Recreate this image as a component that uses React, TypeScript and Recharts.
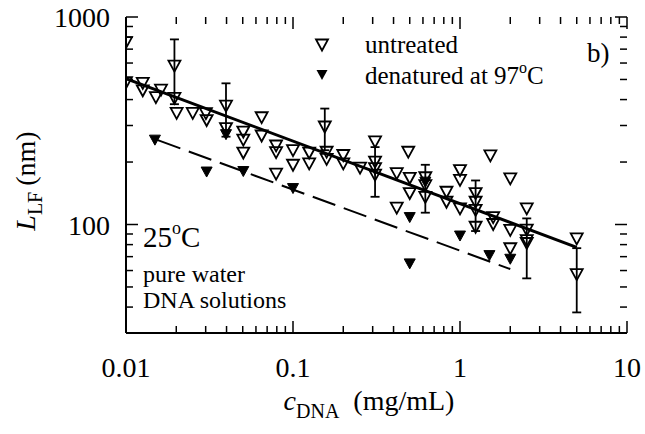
import React from 'react';
import { ScatterChart, Scatter, XAxis, YAxis, ErrorBar } from 'recharts';

const FONT = "'Liberation Serif', 'DejaVu Serif', serif";

// untreated samples without error bars: c_DNA (mg/mL), L_LF (nm)
const untreatedC = [
  0.01, 0.01, 0.0126, 0.0126, 0.0151, 0.0162, 0.0195, 0.0201, 0.0251, 0.0301,
  0.0304, 0.0397, 0.0504, 0.0504, 0.0504, 0.0649, 0.0649, 0.0792, 0.0792, 0.0792,
  0.1, 0.1, 0.125, 0.125, 0.159, 0.159, 0.2, 0.2, 0.252, 0.31,
  0.31, 0.31, 0.418, 0.418, 0.49, 0.5, 0.5, 0.62, 0.62, 0.83,
  0.83, 1.0, 1.0, 1.0, 1.24, 1.24, 1.24, 1.52, 1.58, 1.58,
  2.0, 2.0, 2.0, 2.51, 2.51, 2.51, 5.0,
];
const untreatedL = [
  752, 482, 479, 441, 409, 444, 405, 343, 343, 342,
  317, 290, 279, 255, 221, 327, 267, 239, 222, 175,
  227, 193, 221, 196, 223, 206, 215, 196, 187, 250,
  200, 173, 176, 120, 223, 167, 141, 168, 135, 143,
  128, 182, 163, 119, 141, 117, 97, 214, 108, 100,
  166, 93.6, 76.4, 119, 94, 83.6, 85.3,
];

// untreated samples carrying error bars
const barredC = [0.0195, 0.0397, 0.155, 0.31, 0.62, 1.24, 2.51, 5.0];
const barredL = [580, 372, 295, 186, 154, 128, 81, 57.3];
const barredErr = [200, 107, 67, 50, 40, 35, 26, 19.6];

// denatured at 97 C
const denaturedC = [0.0149, 0.0304, 0.0397, 0.0504, 0.1, 0.5, 0.5, 0.62, 1.0, 1.5, 2.0];
const denaturedL = [255, 179, 271, 180, 149, 108, 64.6, 160, 88, 70.8, 68];

// power-law fits
const fitC = [0.01, 5];
const fitL = [505, 77.6];
const fitDenC = [0.0155, 2];
const fitDenL = [255, 61];

const xTicks = [
  0.01, 0.02, 0.03, 0.04, 0.05, 0.06, 0.07, 0.08, 0.09,
  0.1, 0.2, 0.3, 0.4, 0.5, 0.6, 0.7, 0.8, 0.9,
  1, 2, 3, 4, 5, 6, 7, 8, 9, 10,
];
const xMajor = [0.01, 0.1, 1, 10];
const yTicks = [40, 50, 60, 70, 80, 90, 100, 200, 300, 400, 500, 600, 700, 800, 900, 1000];
const yMajor = [100, 1000];

// plot box size, used to mirror ticks on the top and right frame
const PLOT_W = 501;
const PLOT_H = 316;

const toPts = (c: number[], l: number[]) => c.map((v, i) => ({ c: v, L: l[i] }));
const untreated = toPts(untreatedC, untreatedL);
const barred = barredC.map((v, i) => ({ c: v, L: barredL[i], err: barredErr[i] }));
const denatured = toPts(denaturedC, denaturedL);
const fit = toPts(fitC, fitL);
const fitDen = toPts(fitDenC, fitDenL);

const OpenTri = (props: any) => {
  const { cx, cy } = props;
  if (cx == null || cy == null) return <g />;
  return (
    <polygon
      points={`${cx - 6},${cy - 5.5} ${cx + 6},${cy - 5.5} ${cx},${cy + 5.5}`}
      fill="none"
      stroke="#000"
      strokeWidth={1.8}
    />
  );
};

const FilledTri = (props: any) => {
  const { cx, cy } = props;
  if (cx == null || cy == null) return <g />;
  return (
    <polygon
      points={`${cx - 5.5},${cy - 5} ${cx + 5.5},${cy - 5} ${cx},${cy + 5}`}
      fill="#000"
      stroke="#000"
      strokeWidth={1}
    />
  );
};

const NoDot = () => <g />;

// ticks point inward on all four sides; labels only on decades
const BottomTick = ({ x, y, payload }: any) => {
  const major = xMajor.includes(payload.value);
  const len = major ? 12 : 7;
  return (
    <g>
      <line x1={x} x2={x} y1={y} y2={y - len} stroke="#000" strokeWidth={1.5} />
      <line x1={x} x2={x} y1={y - PLOT_H} y2={y - PLOT_H + len} stroke="#000" strokeWidth={1.5} />
      {major && (
        <text x={x} y={y + 44} textAnchor="middle" style={{ fontFamily: FONT }} fontSize={28} fill="#000">
          {String(payload.value)}
        </text>
      )}
    </g>
  );
};

const LeftTick = ({ x, y, payload }: any) => {
  const major = yMajor.includes(payload.value);
  const len = major ? 12 : 7;
  return (
    <g>
      <line x1={x} x2={x + len} y1={y} y2={y} stroke="#000" strokeWidth={1.5} />
      <line x1={x + PLOT_W} x2={x + PLOT_W - len} y1={y} y2={y} stroke="#000" strokeWidth={1.5} />
      {major && (
        <text x={x - 16} y={y + 10} textAnchor="end" style={{ fontFamily: FONT }} fontSize={28} fill="#000">
          {String(payload.value)}
        </text>
      )}
    </g>
  );
};

const axisLine = { stroke: '#000', strokeWidth: 2 };

export default function App() {
  return (
    <div
      style={{
        position: 'absolute',
        left: 0,
        top: 0,
        width: 645,
        height: 434,
        background: '#fff',
        fontFamily: FONT,
      }}
    >
      <ScatterChart width={645} height={434} margin={{ top: 17, right: 18, bottom: 0, left: 0 }}>
        <XAxis
          dataKey="c"
          type="number"
          scale="log"
          domain={[0.01, 10]}
          allowDataOverflow
          ticks={xTicks}
          interval={0}
          tick={<BottomTick />}
          tickLine={false}
          tickSize={0}
          tickMargin={0}
          axisLine={axisLine}
          height={101}
        />
        <XAxis
          xAxisId="top"
          orientation="top"
          type="number"
          domain={[0, 1]}
          tick={false}
          tickLine={false}
          axisLine={axisLine}
          height={0}
        />
        <YAxis
          dataKey="L"
          type="number"
          scale="log"
          domain={[30, 1000]}
          allowDataOverflow
          ticks={yTicks}
          interval={0}
          tick={<LeftTick />}
          tickLine={false}
          tickSize={0}
          tickMargin={0}
          axisLine={axisLine}
          width={126}
        />
        <YAxis
          yAxisId="right"
          orientation="right"
          type="number"
          domain={[0, 1]}
          tick={false}
          tickLine={false}
          axisLine={axisLine}
          width={0}
        />
        <Scatter data={fit} shape={NoDot} line={{ stroke: '#000', strokeWidth: 3 }} isAnimationActive={false} />
        <Scatter
          data={fitDen}
          shape={NoDot}
          line={{ stroke: '#000', strokeWidth: 2, strokeDasharray: '24 9' }}
          isAnimationActive={false}
        />
        <Scatter data={untreated} shape={OpenTri} isAnimationActive={false} />
        <Scatter data={barred} shape={OpenTri} isAnimationActive={false}>
          <ErrorBar dataKey="err" direction="y" width={4.5} stroke="#000" strokeWidth={1.8} />
        </Scatter>
        <Scatter data={denatured} shape={FilledTri} isAnimationActive={false} />
      </ScatterChart>

      <svg
        width={645}
        height={434}
        style={{ position: 'absolute', left: 0, top: 0, pointerEvents: 'none', fontFamily: FONT }}
      >
        {/* legend */}
        <polygon points="316,39.5 328,39.5 322,50.5" fill="none" stroke="#000" strokeWidth={1.8} />
        <polygon points="316.5,70 327.5,70 322,80" fill="#000" />
        <text x={365} y={53} fontSize={25}>untreated</text>
        <text x={365} y={84} fontSize={25}>
          denatured at 97<tspan fontSize={16} dy={-11}>o</tspan>
          <tspan dy={11}>C</tspan>
        </text>
        <text x={587} y={62} fontSize={27}>b)</text>

        {/* conditions */}
        <text x={143} y={247} fontSize={29}>
          25<tspan fontSize={18} dy={-13}>o</tspan>
          <tspan dy={13}>C</tspan>
        </text>
        <text x={143} y={282} fontSize={24}>pure water</text>
        <text x={143} y={308} fontSize={24}>DNA solutions</text>

        {/* axis titles */}
        <text x={369} y={410} textAnchor="middle" fontSize={28}>
          <tspan fontStyle="italic">c</tspan>
          <tspan fontSize={20} dy={8}>DNA</tspan>
          <tspan dx={14} dy={-8}>(mg/mL)</tspan>
        </text>
        <text x={35} y={181} textAnchor="middle" fontSize={28} transform="rotate(-90 35 181)">
          <tspan fontStyle="italic">L</tspan>
          <tspan fontSize={20} dy={7}>LF</tspan>
          <tspan dx={6} dy={-7}>(nm)</tspan>
        </text>
      </svg>
    </div>
  );
}
